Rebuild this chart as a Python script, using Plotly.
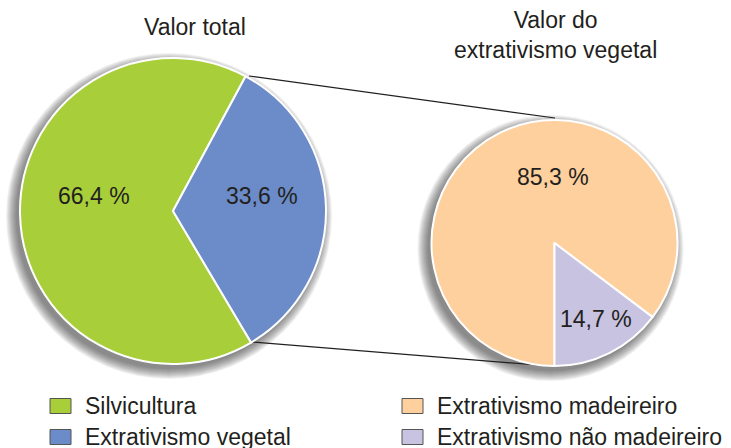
import plotly.graph_objects as go

W, H = 731, 448

# ---- data ----
labels_total = ["Silvicultura", "Extrativismo vegetal"]
values_total = [66.4, 33.6]
labels_ext = ["Extrativismo madeireiro", "Extrativismo não madeireiro"]
values_ext = [85.3, 14.7]
colors_total = ["#a8cf3a", "#6b8cc8"]
colors_ext = ["#fdd09e", "#c7c3e1"]
title_total = "Valor total"
title_ext = "Valor do<br>extrativismo vegetal"

FONT = "Liberation Sans, Arial, Helvetica, sans-serif"
TXT = "#231f20"
FS = 23

def px(x):
    return x / W

def py(y):
    return 1 - y / H

# pie geometry (pixels)
L_C, L_R = (173, 211), 153
R_C, R_R = (554.5, 243), 123

def dom(c, r):
    return dict(x=[px(c[0] - r), px(c[0] + r)], y=[py(c[1] + r), py(c[1] - r)])

fig = go.Figure()
fig.add_trace(go.Pie(
    labels=labels_total, values=values_total, sort=False, direction="clockwise",
    rotation=149.3, domain=dom(L_C, L_R), textinfo="none", hoverinfo="label+percent",
    marker=dict(colors=colors_total, line=dict(color="white", width=2)),
    showlegend=False,
))
fig.add_trace(go.Pie(
    labels=labels_ext, values=values_ext, sort=False, direction="clockwise",
    rotation=180, domain=dom(R_C, R_R), textinfo="none", hoverinfo="label+percent",
    marker=dict(colors=colors_ext, line=dict(color="white", width=2)),
    showlegend=False,
))

shapes = []
# soft drop shadows
for c, r in [(L_C, L_R), (R_C, R_R)]:
    cx, cy = c[0] - 4, c[1] + 5
    for k in range(0, 11):
        rr = r + k
        shapes.append(dict(type="circle", xref="paper", yref="paper",
                           x0=px(cx - rr), x1=px(cx + rr), y0=py(cy + rr), y1=py(cy - rr),
                           fillcolor="rgba(40,40,40,0.065)", line=dict(width=0), layer="below"))
# connector lines
for (x0, y0), (x1, y1) in [((249, 76), (555, 118)), ((252, 342), (537, 365))]:
    shapes.append(dict(type="line", xref="paper", yref="paper",
                       x0=px(x0), y0=py(y0), x1=px(x1), y1=py(y1),
                       line=dict(color=TXT, width=1.2), layer="below"))

annotations = []
def ann(x, y, text, size=FS, anchor="center"):
    annotations.append(dict(x=px(x), y=py(y), xref="paper", yref="paper", text=text,
                            showarrow=False, xanchor=anchor, yanchor="middle",
                            font=dict(family=FONT, size=size, color=TXT)))

def pct(v):
    return f"{v:.1f} %".replace(".", ",")

ann(195, 27, title_total)
ann(555, 35, title_ext)
ann(94, 196, pct(values_total[0]))
ann(262, 196, pct(values_total[1]))
ann(553, 177, pct(values_ext[0]))
ann(596, 319, pct(values_ext[1]))

# legend
legend_items = [
    (50, 406, colors_total[0], labels_total[0]),
    (50, 437, colors_total[1], labels_total[1]),
    (402, 406, colors_ext[0], labels_ext[0]),
    (402, 437, colors_ext[1], labels_ext[1]),
]
for x, y, col, lab in legend_items:
    shapes.append(dict(type="rect", xref="paper", yref="paper",
                       x0=px(x), x1=px(x + 21), y0=py(y + 7.5), y1=py(y - 7.5),
                       fillcolor=col, line=dict(color="#555555", width=1)))
    ann(x + 33, y, lab, anchor="left")

fig.update_layout(
    width=W, height=H, margin=dict(l=0, r=0, t=0, b=0),
    paper_bgcolor="white", plot_bgcolor="white",
    shapes=shapes, annotations=annotations, showlegend=False,
)
fig.write_html("out.html", config={"displayModeBar": False},
               post_script="document.body.style.margin='0';document.body.style.overflow='hidden';")
